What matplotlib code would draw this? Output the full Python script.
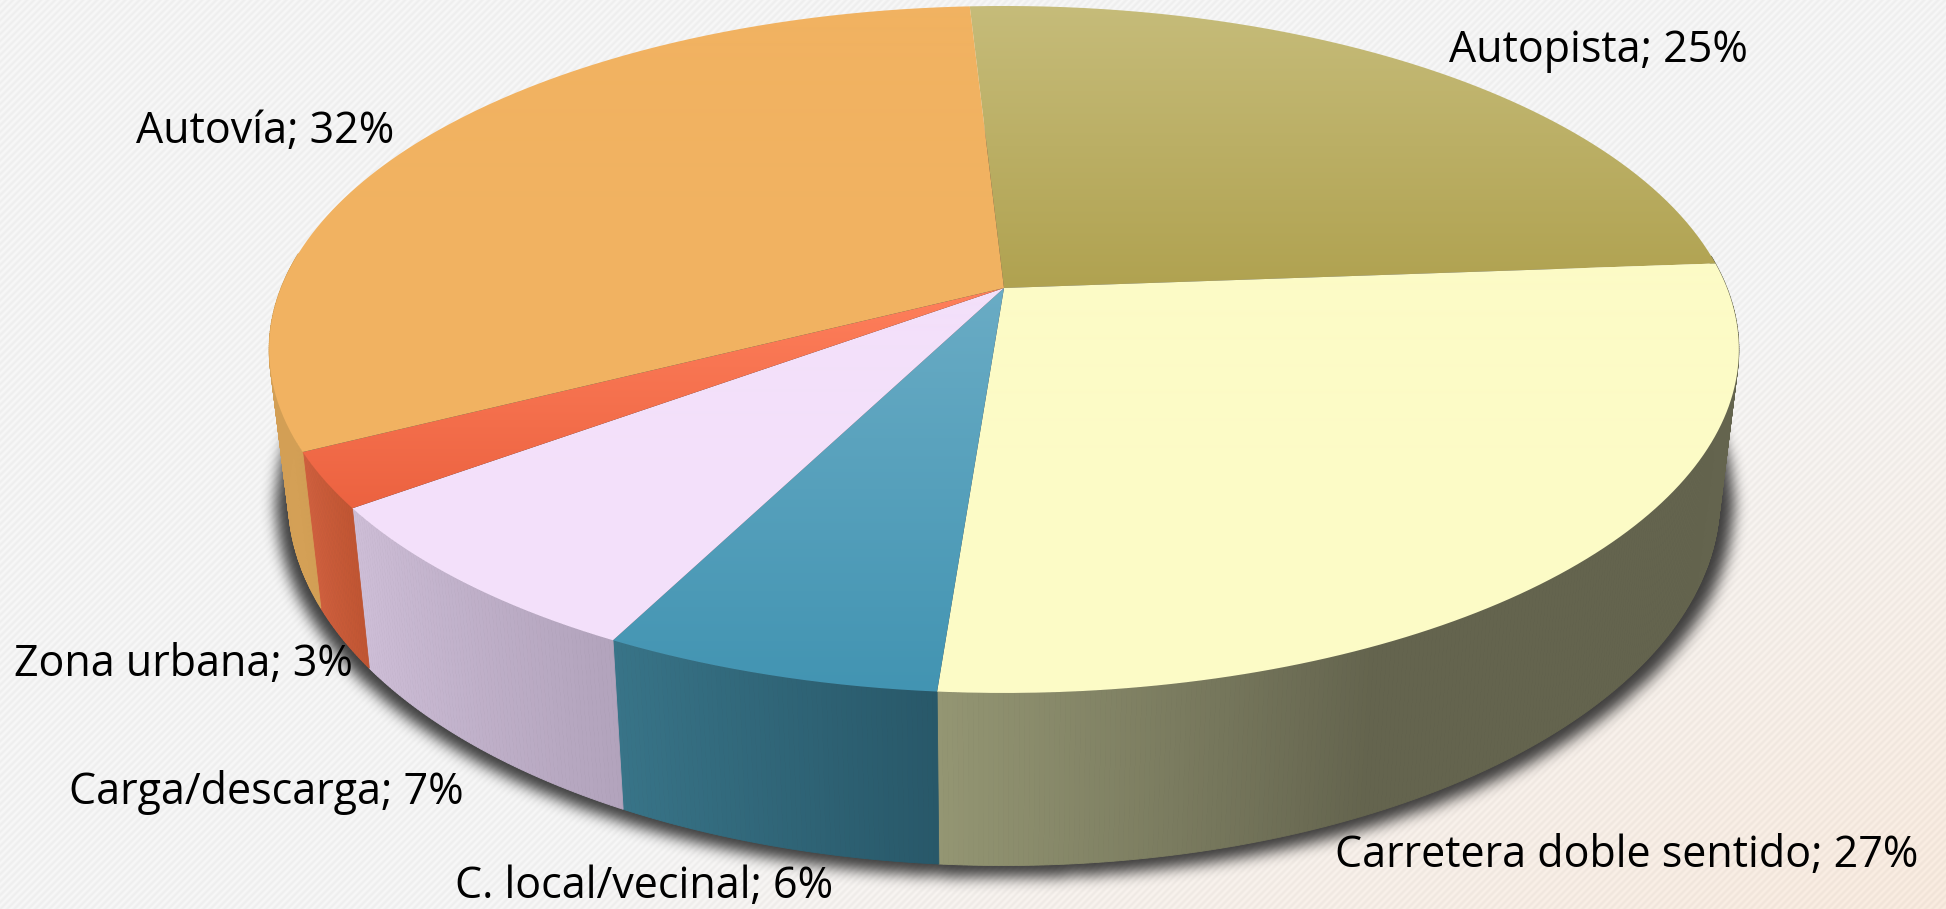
import numpy as np
import matplotlib
matplotlib.use("Agg")
import matplotlib.pyplot as plt
from matplotlib.path import Path
from matplotlib.patches import PathPatch

# ---- data ----
categories = ["Autopista", "Carretera doble sentido", "C. local/vecinal",
              "Carga/descarga", "Zona urbana", "Autovía"]
values = [24.7, 27.4, 6.3, 7.4, 2.6, 31.6]   # labels show them rounded
labels = [f"{c}; {round(v)}%" for c, v in zip(categories, values)]

# ---- style ----
top_cols = [((198, 188, 122), (176, 162, 80)), ((252, 251, 198), (252, 251, 198)),
            ((106, 172, 197), (66, 148, 178)), ((243, 224, 250), (243, 224, 250)),
            ((255, 128, 92), (236, 98, 64)), ((241, 178, 97), (241, 178, 97))]
wall_cols = [((100, 100, 78), (100, 100, 78)), ((100, 100, 78), (148, 150, 115)),
             ((40, 88, 105), (56, 116, 136)), ((178, 163, 188), (206, 190, 215)),
             ((192, 85, 50), (208, 96, 62)), ((212, 160, 86), (206, 155, 82))]
label_xc = [1598, 1627, 644, 266, 183, 265]
label_base = [62, 867, 898, 804, 676, 143]
FONT = "Open Sans"
FS = 31

W, H = 1946, 909
CX, CY, A, B, K = 1004, 288, 723, 332.5, 0.179
START = -3.2
XS, D0, D1 = 0.974, 145, 0.068


def rim(theta):
    t = np.radians(theta)
    u, v = np.sin(t), -np.cos(t)
    w = 1 - K * v
    return CX + A * u / w, CY + B * v / w


def lower(x, y):
    return CX + XS * (x - CX), y + D0 + D1 * (y - CY)


fig = plt.figure(figsize=(W / 100, H / 100), dpi=100)
ax = fig.add_axes([0, 0, 1, 1])
ax.set_xlim(0, W)
ax.set_ylim(H, 0)
ax.axis("off")

# background: fine diagonal texture with a warm corner
yy, xx = np.mgrid[0:H, 0:W]
stripe = np.sin((xx + yy) * 2 * np.pi / 7.0)
warm = np.clip((xx / W + yy / H - 1.25) / 0.75, 0, 1)[..., None]
base = np.array([243, 243, 243.0]) * (1 - warm) + np.array([246, 232, 220.0]) * warm
bg = base + 4.5 * stripe[..., None]
ax.imshow(np.clip(bg, 0, 255).astype(np.uint8), extent=(0, W, H, 0), aspect="auto",
          interpolation="nearest", zorder=0)

# shadow
full = np.linspace(0, 360, 721)
rx, ry = rim(full)
lx, ly = lower(rx, ry)
sx = CX + (lx - CX) * 1.018
sy = 490 + (ly - 490) * 1.018 + 5
step = 2
gy, gx = np.mgrid[0:H:step, 0:W:step]
mask = Path(np.c_[sx, sy]).contains_points(np.c_[gx.ravel(), gy.ravel()]).reshape(gx.shape).astype(float)
for _ in range(3):
    r = 3
    kern = np.ones(2 * r + 1) / (2 * r + 1)
    mask = np.apply_along_axis(lambda m: np.convolve(m, kern, mode="same"), 0, mask)
    mask = np.apply_along_axis(lambda m: np.convolve(m, kern, mode="same"), 1, mask)
rgba = np.zeros(mask.shape + (4,))
rgba[..., :3] = 0.12
rgba[..., 3] = mask * 0.85
ax.imshow(rgba, extent=(0, W, H, 0), aspect="auto", interpolation="bilinear", zorder=1)

# walls and faces
edges = START + np.cumsum([0] + values) * 3.6
for i, (a0, a1) in enumerate(zip(edges[:-1], edges[1:])):
    n = int(max(8, (a1 - a0) * 3))
    th = np.linspace(a0, a1, n + 1)
    x, y = rim(th)
    bx, by = lower(x, y)
    c0, c1 = np.array(wall_cols[i][0], float), np.array(wall_cols[i][1], float)
    for j in range(n):
        if np.cos(np.radians(th[j])) > 0.1:   # hidden back of the drum
            continue
        f = (j + 0.5) / n
        if i == 1:
            f = np.clip((f - 0.70) / 0.30, 0, 1)
        c = (c0 * (1 - f) + c1 * f) / 255
        ax.fill([x[j], x[j + 1], bx[j + 1], bx[j]], [y[j], y[j + 1], by[j + 1], by[j]],
                color=c, lw=0.6, zorder=2)

grad_y = np.linspace(0, 1, 256)
for i, (a0, a1) in enumerate(zip(edges[:-1], edges[1:])):
    th = np.linspace(a0, a1, 200)
    x, y = rim(th)
    verts = np.r_[[[CX, CY]], np.c_[x, y], [[CX, CY]]]
    path = Path(verts)
    y0, y1 = min(y.min(), CY), max(y.max(), CY)
    x0, x1 = min(x.min(), CX), max(x.max(), CX)
    c0, c1 = np.array(top_cols[i][0], float), np.array(top_cols[i][1], float)
    img = (c0[None, :] * (1 - grad_y[:, None]) + c1[None, :] * grad_y[:, None])[:, None, :]
    im = ax.imshow(img.astype(np.uint8), extent=(x0 - 2, x1 + 2, y1 + 1, y0 - 1), aspect="auto",
                   interpolation="bilinear", zorder=3)
    patch = PathPatch(path, fc="none", ec="none", transform=ax.transData)
    ax.add_patch(patch)
    im.set_clip_path(patch)
ax.set_xlim(0, W)
ax.set_ylim(H, 0)

for lab, xc, yb in zip(labels, label_xc, label_base):
    ax.text(xc, yb, lab, ha="center", va="baseline", fontsize=FS, family=FONT,
            color="black", zorder=5)

fig.savefig("out.png", dpi=100)
